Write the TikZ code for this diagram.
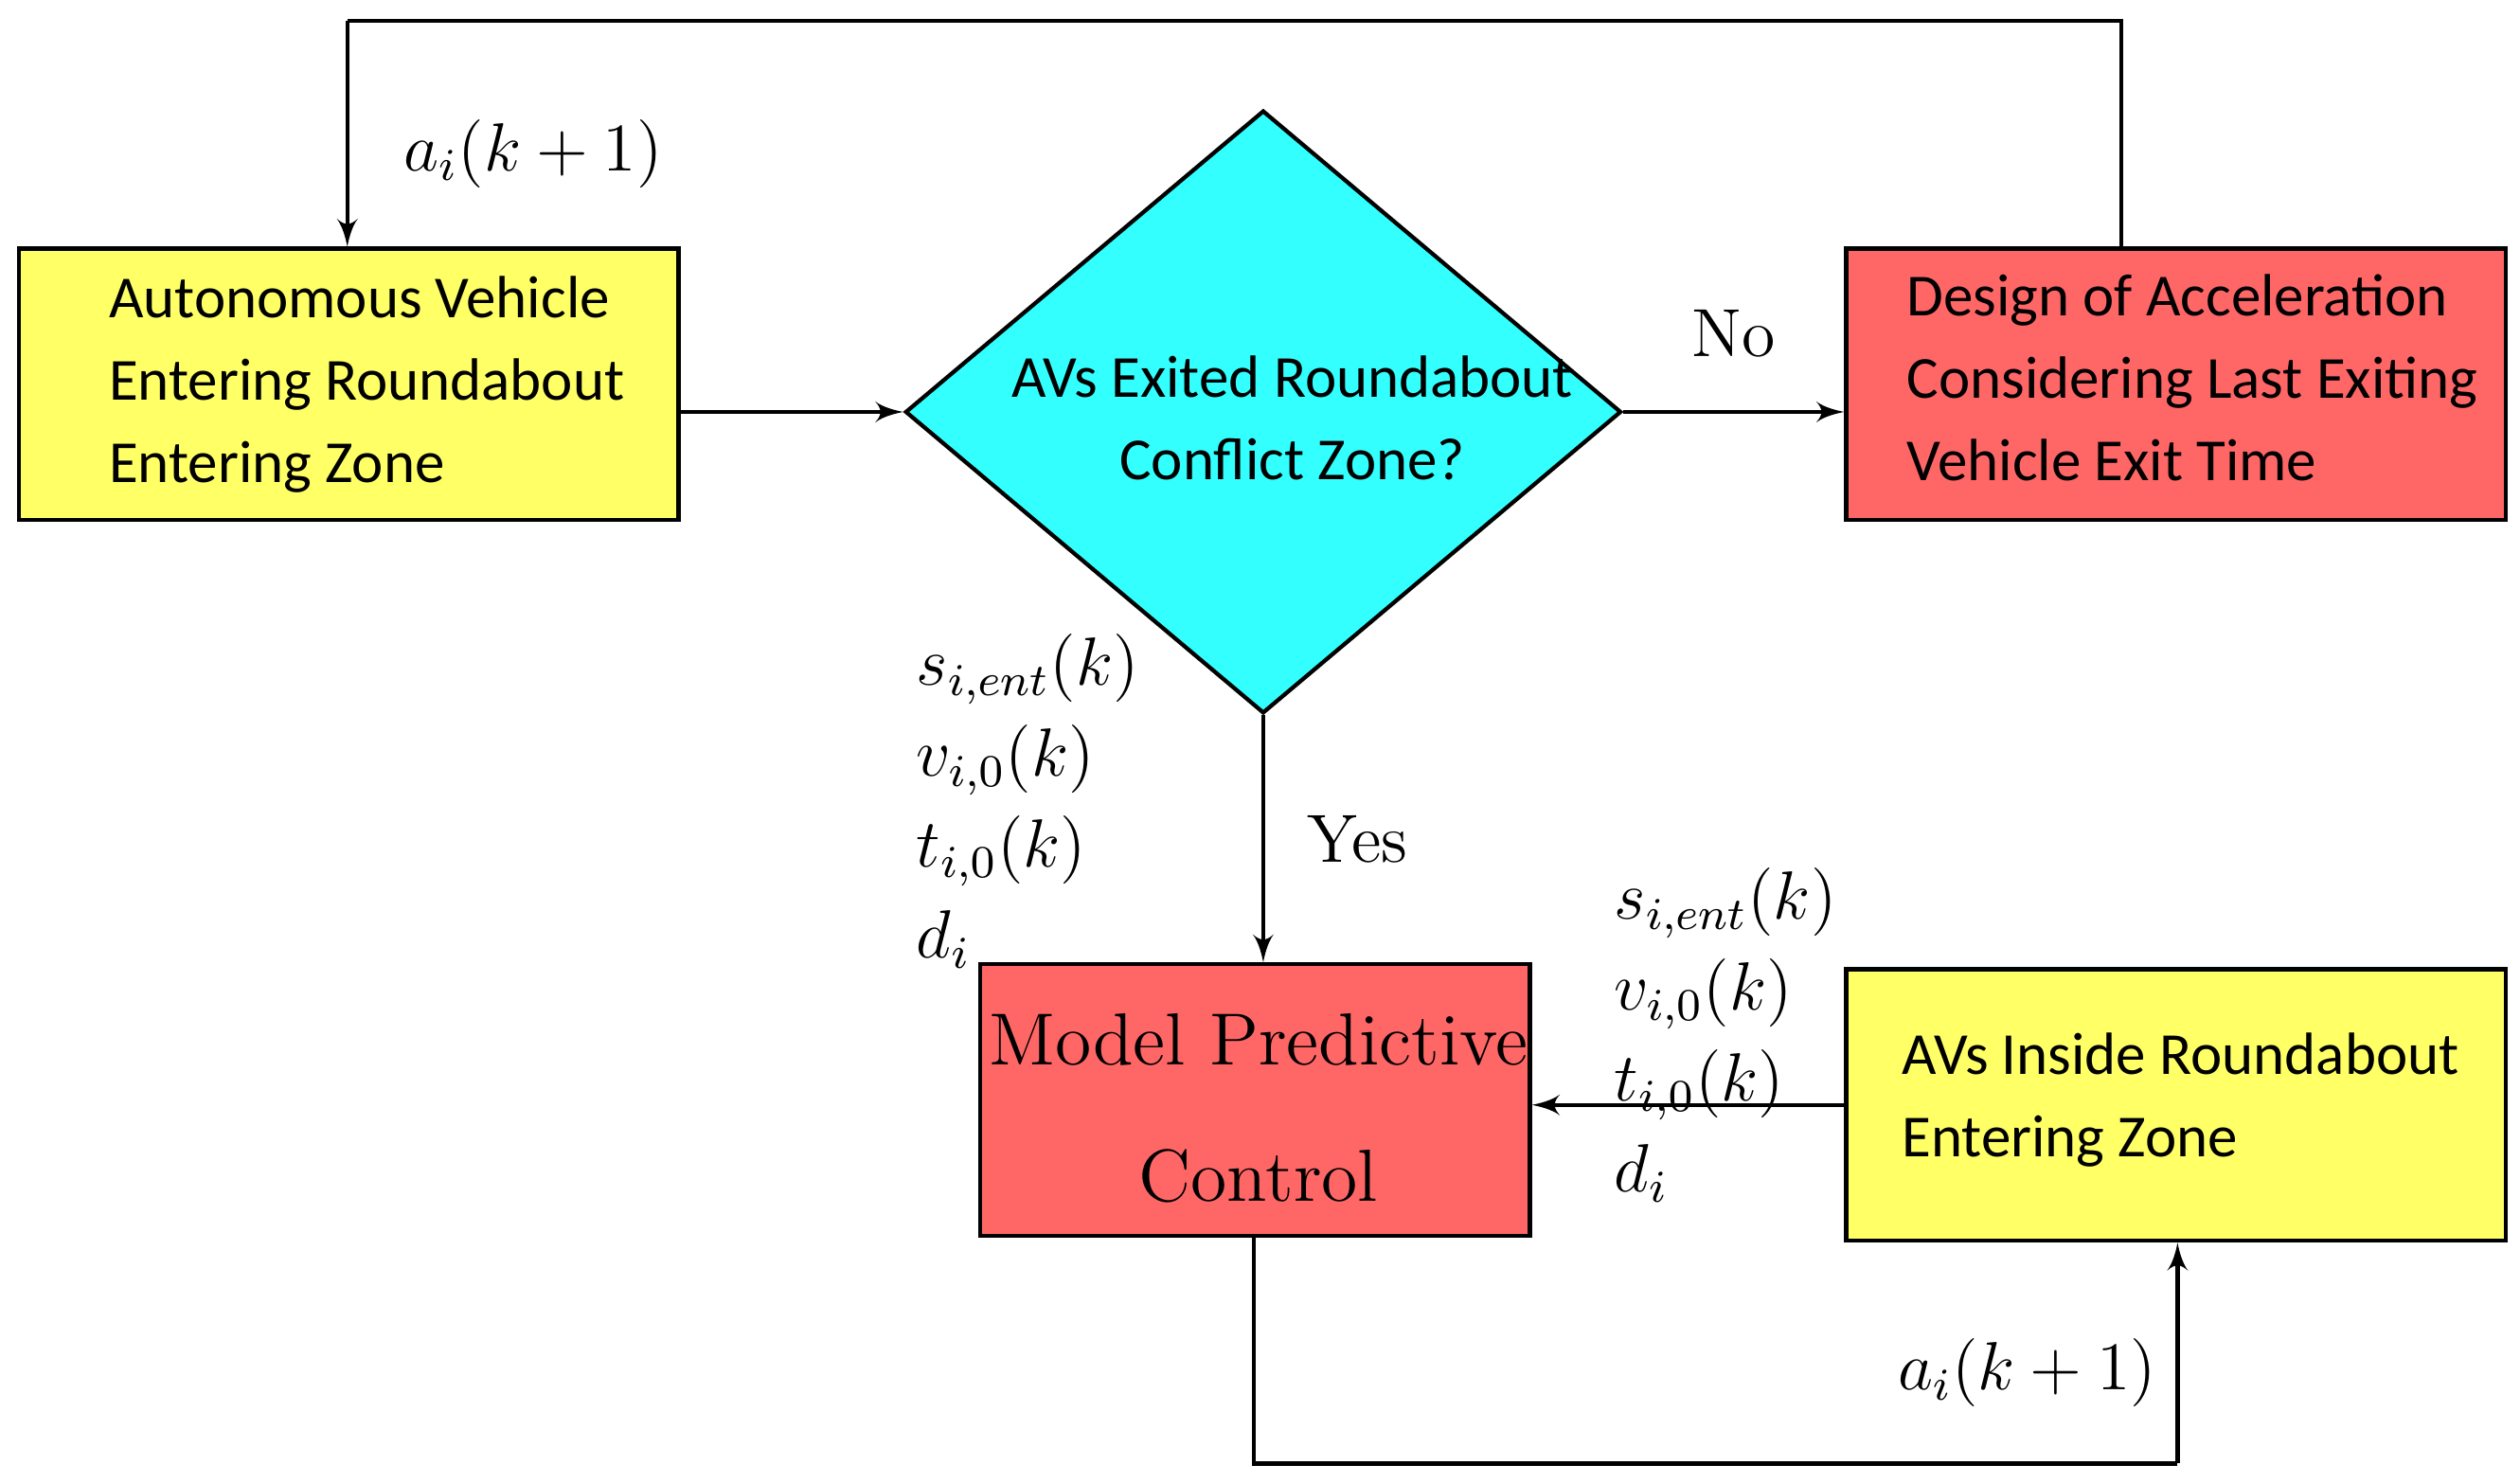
\documentclass[tikz,border=0pt]{standalone}
\usepackage{amsmath}
\usepackage{fontspec}
\newfontfamily\calib{Carlito}
\usetikzlibrary{shapes,arrows,positioning,calc}
\definecolor{boxyellow}{RGB}{255,255,102}
\definecolor{boxred}{RGB}{255,102,102}
\definecolor{boxcyan}{RGB}{51,255,255}
\tikzset{
block/.style = {draw, line width=0.25mm, rectangle, minimum height=1.68cm, minimum width=4.08cm},
decision/.style = {draw, line width=0.25mm, diamond, aspect=1.19, minimum width=4.43cm, minimum height=3.73cm, inner sep=0pt, fill=boxcyan},
tmp/.style  = {coordinate},
lbl/.style = {font=\fontsize{12}{14}\selectfont},
sanstext/.style = {font=\calib\fontsize{10.5}{14.5}\selectfont}
}
\begin{document}
\begin{tikzpicture}[auto, >=latex', x=0.01cm, y=-0.01cm]
\useasboundingbox (0,0) rectangle (1560,918);
\node[block, fill=boxyellow] (entering) at (216,238) {};
\node[sanstext, align=left, anchor=west] at (55,238) {Autonomous Vehicle\\Entering Roundabout\\Entering Zone};
\node[decision] (exited) at (782,255) {};
\node[sanstext, align=center] at (800,259) {AVs Exited Roundabout\\Conflict Zone?};
\node[block, fill=boxred] (design) at (1347,238) {};
\node[sanstext, align=left, anchor=west] at (1168,234) {Design of Acceleration\\Considering Last Exiting\\Vehicle Exit Time};
\node[block, fill=boxred, minimum width=3.4cm] (mpc) at (777,681) {};
\node[align=center, font=\fontsize{13}{24}\selectfont] at (779,686) {Model Predictive\\Control};
\node[block, fill=boxyellow] (inside) at (1347,684) {};
\node[sanstext, align=left, anchor=west] at (1165,681) {AVs Inside Roundabout\\Entering Zone};
\node[tmp] (tmp1) at (1313,13) {};
\node[tmp] (tmp2) at (215,13) {};
\node[tmp] (tmp3) at (776,906) {};
\node[tmp] (tmp4) at (1348,906) {};
\draw[->,line width=0.25mm] (entering.east |- exited.west) -- (exited.west);
\draw[->,line width=0.25mm] (exited.east) -- node[lbl, above=6pt] {No} (exited.east -| design.west);
\draw[line width=0.25mm] (tmp1 |- design.north) -- (tmp1) -- (tmp2);
\draw[->,line width=0.25mm] (tmp2) -- (tmp2 |- entering.north);
\node[lbl] at (330,95) {$a_i(k+1)$};
\draw[->,line width=0.25mm] (exited.south) -- node[lbl, right=4pt] {Yes} (exited.south |- mpc.north);
\node[lbl, align=left, anchor=north west] at (555,380) {$s_{i,ent}(k)$\\[2pt]$v_{i,0}(k)$\\[2pt]$t_{i,0}(k)$\\[2pt]$d_i$};
\draw[->,line width=0.25mm] (inside.west) -- (mpc.east |- inside.west);
\node[lbl, align=left, anchor=north west] at (987,525) {$s_{i,ent}(k)$\\[2pt]$v_{i,0}(k)$\\[2pt]$t_{i,0}(k)$\\[2pt]$d_i$};
\draw[line width=0.25mm] (tmp3 |- mpc.south) -- (tmp3) -- (tmp4);
\draw[->,line width=0.25mm] (tmp4) -- (inside.south -| tmp4);
\node[lbl] at (1255,850) {$a_i(k+1)$};
\end{tikzpicture}
\end{document}
